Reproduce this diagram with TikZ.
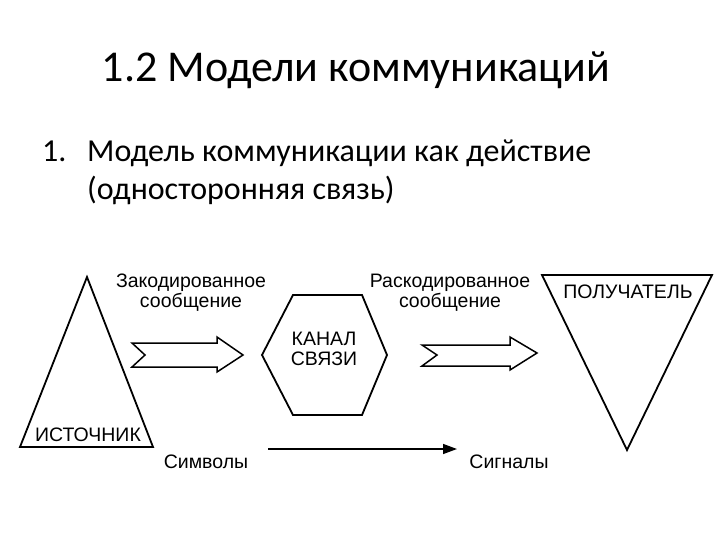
\documentclass[tikz,border=0pt]{standalone}
\usepackage{fontspec}
\setmainfont{Carlito}
\newfontfamily\diag{Liberation Sans}
\usetikzlibrary{arrows.meta}
\tikzset{
  shp/.style={draw=black, line width=1.8pt, line join=miter},
  blk/.style={draw=black, line width=1.5pt, line join=miter},
  lbl/.style={font=\diag\fontsize{19.5}{21}\selectfont, inner sep=0pt, align=center},
  body/.style={font=\fontsize{32}{38}\selectfont, inner sep=0pt, anchor=base west},
}
\begin{document}
\begin{tikzpicture}[x=1pt,y=-1pt]
\useasboundingbox (0,0) rectangle (720,540);
% title
\node[font=\fontsize{44}{50}\selectfont, inner sep=0pt, anchor=base] (title) at (356,82) {1.2 Модели коммуникаций};
\node[body] (num) at (42,162) {1.};
\node[body] (l1) at (87,162) {Модель коммуникации как действие};
\node[body] (l2) at (87,200) {(односторонняя связь)};
% source triangle
\draw[shp] (87,277) -- (20,447) -- (153,447) -- cycle;
\node[lbl] (src) at (88,435) {ИСТОЧНИК};
% arrow 1
\draw[blk] (132,343) -- (217,343) -- (217,337) -- (243,355) -- (217,372) -- (217,367) -- (132,367) -- (145,355) -- cycle;
\node[lbl] (enc) at (191,293) {Закодированное\\[-1pt]сообщение};
% hexagon
\draw[shp] (262,355) -- (293,295) -- (362,295) -- (387,355) -- (362,415) -- (293,415) -- cycle;
\node[lbl] (chan) at (324,349) {КАНАЛ\\[-1pt]СВЯЗИ};
% arrow 2
\draw[blk] (422,345) -- (510,345) -- (510,337) -- (537,353) -- (510,370) -- (510,366) -- (422,366) -- (437,355) -- cycle;
\node[lbl] (dec) at (450,293) {Раскодированное\\[-1pt]сообщение};
% receiver triangle
\draw[shp] (542,275) -- (712,275) -- (627,450) -- cycle;
\node[lbl] (rcv) at (628,292) {ПОЛУЧАТЕЛЬ};
% bottom
\node[lbl] (sym) at (206,462) {Символы};
\node[lbl] (sig) at (509,462) {Сигналы};
\coordinate (b1) at (268,449);
\coordinate (b2) at (457,449);
\draw[line width=1.4pt, -{Triangle[length=14pt,width=10pt]}] (b1) -- (b2);
\end{tikzpicture}
\end{document}
